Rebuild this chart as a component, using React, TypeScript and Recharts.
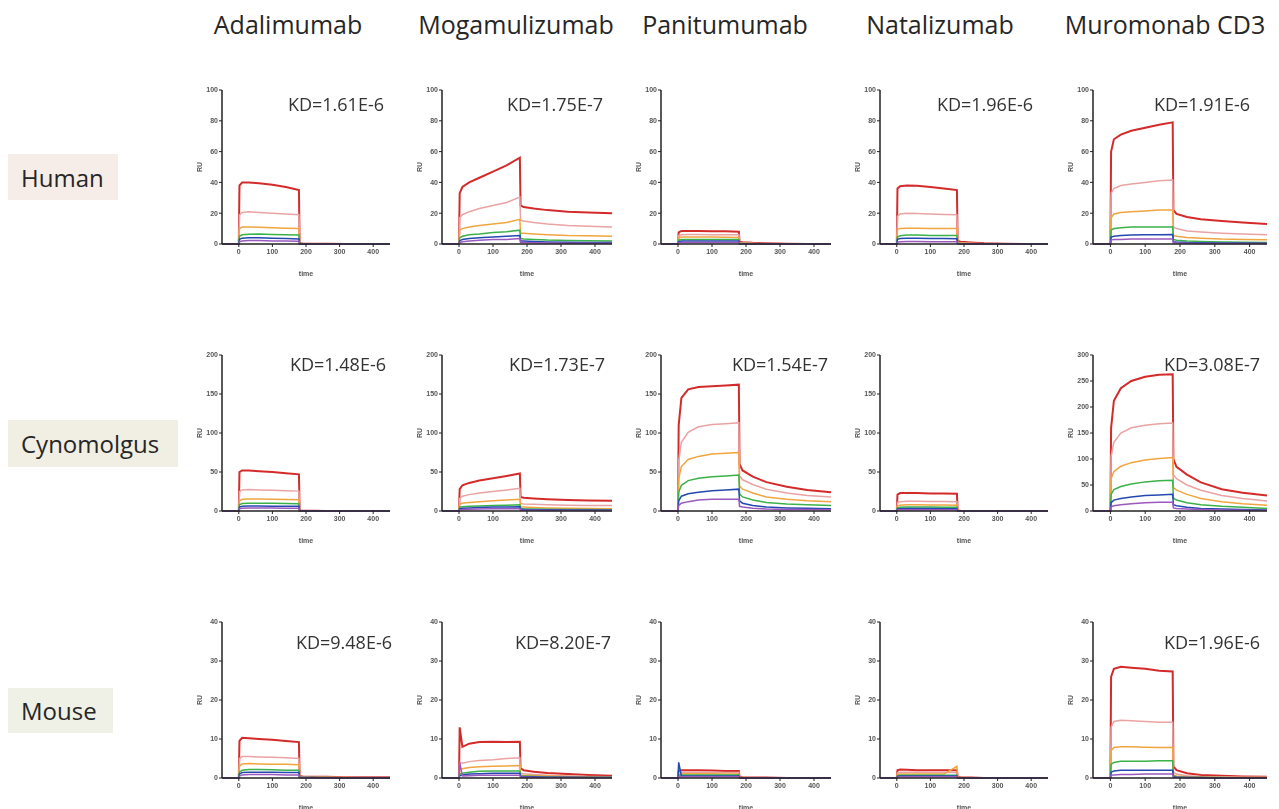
import { LineChart, Line, XAxis, YAxis } from 'recharts';

// sample times (s) shared by every sensorgram
const T = [-50, 0, 2, 10, 30, 60, 100, 140, 179, 181, 190, 220, 260, 320, 380, 450];

const antibodies = ['Adalimumab', 'Mogamulizumab', 'Panitumumab', 'Natalizumab', 'Muromonab CD3'];
const species = ['Human', 'Cynomolgus', 'Mouse'];
const speciesBg = ['#f6ece8', '#f1eee3', '#eff1e6'];

// six analyte concentrations, high -> low
const seriesColors = ['#d42a2a', '#eaa3a3', '#f0a540', '#3bb149', '#2548b0', '#9b59c0'];

const ticks100 = [0, 20, 40, 60, 80, 100];
const ticks200 = [0, 50, 100, 150, 200];
const ticks300 = [0, 50, 100, 150, 200, 250, 300];
const ticks40 = [0, 10, 20, 30, 40];

// ---- Human ----
const humAda = [
  [0, 0, 38, 40, 40, 39.5, 38.5, 37, 35, 0.5, 0.3, 0.2, 0.1, 0, 0, 0],
  [0, 0, 19, 20.5, 21, 20.5, 20, 19.5, 19, 0.3, 0.2, 0.1, 0, 0, 0, 0],
  [0, 0, 10, 11, 11, 10.8, 10.5, 10.3, 10, 0.2, 0.1, 0, 0, 0, 0, 0],
  [0, 0, 5, 6, 6.3, 6.5, 6.2, 6, 5.8, 0.2, 0.1, 0, 0, 0, 0, 0],
  [0, 0, 3, 3.8, 4, 4, 3.8, 3.5, 3.3, 0.1, 0, 0, 0, 0, 0, 0],
  [0, 0, 1.5, 2, 2.2, 2.2, 2, 2, 1.8, 0.1, 0, 0, 0, 0, 0, 0],
];
const humMoga = [
  [0, 0, 33, 37, 40, 43, 47, 51, 56, 25, 24, 23, 22, 21, 20.5, 20],
  [0, 0, 17, 19, 21, 23, 25, 27, 30.5, 15.5, 15, 14, 13, 12, 11.5, 11],
  [0, 0, 9, 10, 11, 12, 13, 14, 16, 7, 7, 6.5, 6, 5.5, 5.3, 5],
  [0, 0, 4, 5, 6, 6.5, 7.5, 8, 9, 3.5, 3.3, 3, 2.6, 2.3, 2.1, 2],
  [0, 0, 2, 3, 3.5, 4, 4.5, 5, 5.5, 2, 1.9, 1.6, 1.3, 1.1, 1, 1],
  [0, 0, 1, 1.5, 2, 2.5, 3, 3, 3.5, 1, 0.9, 0.8, 0.6, 0.5, 0.5, 0.5],
];
const humPani = [
  [0, 0, 7.5, 8.5, 8.5, 8.5, 8.3, 8.2, 8, 1.5, 1.2, 0.8, 0.5, 0.2, 0, 0],
  [0, 0, 5.5, 6, 6.2, 6.2, 6, 6, 6, 1, 0.8, 0.5, 0.3, 0.1, 0, 0],
  [0, 0, 4, 4.5, 4.5, 4.5, 4.5, 4.4, 4.3, 0.7, 0.5, 0.3, 0.2, 0, 0, 0],
  [0, 0, 2.5, 3, 3, 3, 3, 3, 3, 0.5, 0.4, 0.2, 0.1, 0, 0, 0],
  [0, 0, 1.5, 2, 2, 2, 2, 2, 2, 0.3, 0.2, 0.1, 0, 0, 0, 0],
  [0, 0, 0.8, 1, 1, 1, 1, 1, 1, 0.2, 0.1, 0, 0, 0, 0, 0],
];
const humNata = [
  [0, 0, 36, 37.5, 38, 37.8, 37, 36, 35, 2, 1.5, 1, 0.5, 0.2, 0, 0],
  [0, 0, 18, 19.5, 20, 19.8, 19.5, 19.2, 19, 1, 0.8, 0.5, 0.2, 0, 0, 0],
  [0, 0, 9.5, 10, 10.2, 10.2, 10, 10, 10, 0.6, 0.5, 0.3, 0.1, 0, 0, 0],
  [0, 0, 4.5, 5.3, 5.8, 5.8, 5.6, 5.5, 5.5, 0.4, 0.3, 0.2, 0, 0, 0, 0],
  [0, 0, 3, 3.5, 3.8, 3.8, 3.6, 3.5, 3.4, 0.3, 0.2, 0.1, 0, 0, 0, 0],
  [0, 0, 1.2, 1.5, 1.6, 1.6, 1.5, 1.5, 1.4, 0.2, 0.1, 0, 0, 0, 0, 0],
];
const humMuro = [
  [0, 0, 60, 68, 71, 73.5, 75.5, 77.5, 79, 22, 19.5, 17.5, 16, 15, 14, 13],
  [0, 0, 33, 36, 38, 39, 40, 41, 41.5, 11, 10, 8.5, 7.8, 7, 6.5, 6],
  [0, 0, 17, 19.5, 20.5, 21, 21.5, 22, 22, 5.5, 5, 4.2, 3.7, 3.2, 3, 2.8],
  [0, 0, 9, 10, 10.5, 11, 11, 11, 11, 3, 2.5, 2, 1.6, 1.3, 1.1, 1],
  [0, 0, 4.5, 5, 5.5, 5.8, 6, 6, 6.2, 1.5, 1.3, 1, 0.8, 0.7, 0.6, 0.5],
  [0, 0, 2.5, 3, 3, 3.2, 3.2, 3.2, 3.2, 0.8, 0.7, 0.5, 0.4, 0.3, 0.3, 0.3],
];

// ---- Cynomolgus ----
const cynAda = [
  [0, 0, 50, 52, 52, 51, 50, 48.5, 47, 0.5, 0.3, 0.2, 0.1, 0, 0, 0],
  [0, 0, 25, 27, 27.5, 27, 26.5, 26, 25.5, 0.3, 0.2, 0.1, 0, 0, 0, 0],
  [0, 0, 13, 15, 15.5, 15.3, 15, 14.8, 14.5, 0.2, 0.1, 0, 0, 0, 0, 0],
  [0, 0, 8, 9.5, 10, 10, 9.8, 9.5, 9.3, 0.1, 0, 0, 0, 0, 0, 0],
  [0, 0, 5, 6, 6.3, 6.3, 6.2, 6, 6, 0.1, 0, 0, 0, 0, 0, 0],
  [0, 0, 3, 3.5, 3.8, 3.8, 3.7, 3.6, 3.5, 0, 0, 0, 0, 0, 0, 0],
];
const cynMoga = [
  [0, 0, 28, 33, 36, 39, 42, 45, 48, 18, 17, 16, 15, 14, 13.5, 13],
  [0, 0, 16, 19, 21, 23, 25, 27, 29, 9.5, 9, 8.5, 8, 7.5, 7, 7],
  [0, 0, 9, 10, 11, 12, 13, 14, 15, 5, 5, 4.5, 4, 3.6, 3.3, 3],
  [0, 0, 5, 5.5, 6, 6.5, 7, 7.5, 8, 3, 2.8, 2.5, 2.2, 2, 1.8, 1.6],
  [0, 0, 3, 3.5, 4, 4.5, 5, 5, 5.5, 2, 1.9, 1.7, 1.5, 1.3, 1.2, 1],
  [0, 0, 1.5, 2, 2.3, 2.5, 2.8, 3, 3, 1, 1, 0.9, 0.8, 0.7, 0.6, 0.5],
];
const cynPani = [
  [0, 0, 110, 145, 156, 159, 160, 161, 162, 60, 52, 44, 37, 31, 27, 24],
  [0, 0, 65, 88, 101, 108, 111, 112, 113, 45, 40, 34, 28, 23, 20, 18],
  [0, 0, 42, 57, 66, 70, 73, 74, 75, 32, 28, 23, 18, 15, 13, 12],
  [0, 0, 24, 33, 39, 42, 44, 45, 46, 22, 18, 14, 11, 9, 8, 7],
  [0, 0, 13, 19, 22, 24, 26, 27, 28, 13, 10, 7, 5, 4, 3.5, 3],
  [0, 0, 7, 10, 12, 14, 15, 15, 15, 6, 5, 3.5, 2.5, 2, 2, 1.5],
];
const cynNata = [
  [0, 0, 21, 23, 23, 23, 22.5, 22.3, 22, 0.5, 0.3, 0.1, 0, 0, 0, 0],
  [0, 0, 11, 12, 12.5, 12.5, 12.3, 12.2, 12, 0.3, 0.2, 0, 0, 0, 0, 0],
  [0, 0, 6.5, 7.5, 8, 8, 7.8, 7.7, 7.5, 0.2, 0.1, 0, 0, 0, 0, 0],
  [0, 0, 4, 4.8, 5, 5, 5, 4.9, 4.8, 0.1, 0, 0, 0, 0, 0, 0],
  [0, 0, 2.5, 3, 3.2, 3.2, 3.1, 3, 3, 0.1, 0, 0, 0, 0, 0, 0],
  [0, 0, 1.2, 1.5, 1.7, 1.7, 1.7, 1.6, 1.6, 0, 0, 0, 0, 0, 0, 0],
];
const cynMuro = [
  [0, 0, 160, 212, 236, 250, 258, 262, 263, 100, 85, 70, 55, 42, 35, 30],
  [0, 0, 105, 132, 150, 160, 165, 168, 169, 70, 62, 50, 40, 30, 24, 19],
  [0, 0, 62, 76, 86, 93, 98, 101, 103, 45, 40, 32, 24, 18, 14, 11],
  [0, 0, 32, 41, 47, 52, 56, 58, 59, 25, 21, 16, 12, 9, 7, 5],
  [0, 0, 16, 21, 24, 27, 30, 31, 32, 12, 10, 7, 5, 4, 3, 2],
  [0, 0, 8, 10, 12, 14, 16, 17, 17, 6, 5, 4, 3, 2, 1.5, 1],
];

// ---- Mouse ----
const mouAda = [
  [0, 0, 9.5, 10.3, 10.2, 10, 9.8, 9.5, 9.2, 0.5, 0.4, 0.3, 0.3, 0.2, 0.2, 0.2],
  [0, 0, 5, 5.5, 5.5, 5.4, 5.3, 5.2, 5, 0.3, 0.3, 0.2, 0.2, 0.1, 0.1, 0.1],
  [0, 0, 3, 3.6, 3.7, 3.6, 3.5, 3.5, 3.4, 0.2, 0.2, 0.1, 0.1, 0.1, 0, 0],
  [0, 0, 1.5, 2, 2.2, 2.2, 2.1, 2, 2, 0.2, 0.1, 0.1, 0.1, 0, 0, 0],
  [0, 0, 1, 1.4, 1.5, 1.5, 1.5, 1.4, 1.4, 0.1, 0.1, 0.1, 0, 0, 0, 0],
  [0, 0, 0.5, 0.8, 0.9, 0.9, 0.9, 0.8, 0.8, 0.1, 0.1, 0, 0, 0, 0, 0],
];
const mouMoga = [
  [0, 0, 13, 8, 8.8, 9.2, 9.3, 9.2, 9.3, 2.5, 2, 1.6, 1.3, 1, 0.8, 0.6],
  [0, 0, 4, 3.8, 4.2, 4.5, 4.7, 5, 5.2, 1.2, 1.1, 0.9, 0.7, 0.5, 0.4, 0.3],
  [0, 0, 2, 2.4, 2.7, 2.9, 3, 3.1, 3.2, 0.8, 0.7, 0.6, 0.5, 0.4, 0.3, 0.3],
  [0, 0, 1, 1.2, 1.5, 1.7, 1.8, 1.8, 1.8, 0.5, 0.5, 0.4, 0.3, 0.2, 0.2, 0.2],
  [0, 0, 0.6, 0.8, 1, 1.1, 1.2, 1.2, 1.2, 0.4, 0.3, 0.3, 0.2, 0.2, 0.1, 0.1],
  [0, 0, 4, 0.5, 0.6, 0.7, 0.7, 0.7, 0.7, 0.2, 0.2, 0.1, 0.1, 0.1, 0.1, 0.1],
];
const mouPani = [
  [0, 0, 1.8, 2, 2, 2, 1.9, 1.8, 1.8, 0.3, 0.2, 0.1, 0.1, 0, 0, 0],
  [0, 0, 1.3, 1.5, 1.5, 1.5, 1.5, 1.4, 1.4, 0.2, 0.1, 0.1, 0, 0, 0, 0],
  [0, 0, 1, 1.1, 1.1, 1.1, 1.1, 1, 1, 0.1, 0.1, 0, 0, 0, 0, 0],
  [0, 0, 0.7, 0.8, 0.8, 0.8, 0.8, 0.8, 0.8, 0.1, 0, 0, 0, 0, 0, 0],
  [0, 0, 4, 0.5, 0.5, 0.5, 0.5, 0.5, 0.5, 0.1, 0, 0, 0, 0, 0, 0],
  [0, 0, 0.3, 0.3, 0.3, 0.3, 0.3, 0.3, 0.3, 0, 0, 0, 0, 0, 0, 0],
];
const mouNata = [
  [0, 0, 2, 2.2, 2.1, 2, 2, 2, 2, 0.3, 0.2, 0.1, 0, 0, 0, 0],
  [0, 0, 1.3, 1.5, 1.5, 1.5, 1.4, 1.4, 1.4, 0.2, 0.1, 0, 0, 0, 0, 0],
  [0, 0, 0.9, 1, 1, 1, 1, 1, 3, 0.1, 0.1, 0, 0, 0, 0, 0],
  [0, 0, 0.6, 0.7, 0.7, 0.7, 0.7, 0.7, 0.7, 0.1, 0, 0, 0, 0, 0, 0],
  [0, 0, 0.4, 0.5, 0.5, 0.5, 0.5, 0.5, 0.5, 0, 0, 0, 0, 0, 0, 0],
  [0, 0, 0.2, 0.3, 0.3, 0.3, 0.3, 0.3, 0.3, 0, 0, 0, 0, 0, 0, 0],
];
const mouMuro = [
  [0, 0, 26, 28, 28.5, 28.3, 28, 27.5, 27.3, 3, 2, 1.2, 0.8, 0.6, 0.4, 0.3],
  [0, 0, 13, 14.5, 14.8, 14.7, 14.5, 14.3, 14.3, 1.5, 1, 0.6, 0.4, 0.3, 0.2, 0.2],
  [0, 0, 7, 7.8, 8, 8, 7.9, 7.8, 7.8, 0.8, 0.5, 0.3, 0.2, 0.1, 0.1, 0.1],
  [0, 0, 3.5, 4, 4.3, 4.3, 4.3, 4.4, 4.4, 0.5, 0.3, 0.2, 0.1, 0.1, 0, 0],
  [0, 0, 1.5, 1.8, 2, 2, 2, 2, 2, 0.3, 0.2, 0.1, 0.1, 0, 0, 0],
  [0, 0, 0.7, 0.8, 0.9, 0.9, 1, 1, 1, 0.2, 0.1, 0.1, 0, 0, 0, 0],
];

const kdHuman = ['KD=1.61E-6', 'KD=1.75E-7', '', 'KD=1.96E-6', 'KD=1.91E-6'];
const kdCyno = ['KD=1.48E-6', 'KD=1.73E-7', 'KD=1.54E-7', '', 'KD=3.08E-7'];
const kdMouse = ['KD=9.48E-6', 'KD=8.20E-7', '', '', 'KD=1.96E-6'];

const grid = [
  [humAda, humMoga, humPani, humNata, humMuro],
  [cynAda, cynMoga, cynPani, cynNata, cynMuro],
  [mouAda, mouMoga, mouPani, mouNata, mouMuro],
];
const kdGrid = [kdHuman, kdCyno, kdMouse];

// layout (px)
const colX = [222, 442, 661, 880, 1093];
const colW = [168, 170, 170, 168, 174];
const colHead = [288, 516, 725, 940, 1165];
const rowY = [90, 355, 622];
const rowH = [154, 156, 156];
const labelBox = [
  { left: 8, top: 154, width: 110, height: 46 },
  { left: 8, top: 420, width: 170, height: 47 },
  { left: 8, top: 688, width: 105, height: 45 },
];
const kdRight = [
  [384, 603, 0, 1033, 1250],
  [386, 605, 828, 0, 1260],
  [392, 611, 0, 0, 1260],
];
const kdY = [104, 364, 642];

const FONT = '"Open Sans", "Noto Sans", sans-serif';
const AX = '#222';
const tickStyle = { fontSize: 7, fill: '#555', fontFamily: 'Liberation Sans, Arial', fontWeight: 700 };

function Panel({ x, y, w, h, yMax, yTicks, rows }: any) {
  const series = rows.map((r: number[]) => T.map((t, i) => ({ t, v: r[i] })));
  return (
    <div style={{ position: 'absolute', left: x - 45, top: y - 6, willChange: 'transform' }}>
      <LineChart width={45 + w + 6} height={6 + h + 36} margin={{ top: 6, right: 6, bottom: 0, left: 0 }}>
        <XAxis
          type="number"
          dataKey="t"
          domain={[-50, 450]}
          ticks={[0, 100, 200, 300, 400]}
          height={36}
          tick={tickStyle}
          tickSize={3}
          tickMargin={2}
          axisLine={{ stroke: AX, strokeWidth: 1.5 }}
          tickLine={{ stroke: AX }}
          label={{ value: 'time', position: 'insideBottom', offset: 4, style: tickStyle }}
        />
        <YAxis
          type="number"
          domain={[0, yMax]}
          ticks={yTicks}
          width={45}
          tick={tickStyle}
          tickSize={3}
          tickMargin={1}
          axisLine={{ stroke: AX, strokeWidth: 1.5 }}
          tickLine={{ stroke: AX }}
          label={{ value: 'RU', angle: -90, position: 'center', style: tickStyle }}
        />
        {series.map((d: any, i: number) => (
          <Line
            key={i}
            data={d}
            dataKey="v"
            type="linear"
            stroke={seriesColors[i]}
            strokeWidth={i === 0 ? 2 : 1.5}
            dot={false}
            isAnimationActive={false}
          />
        ))}
      </LineChart>
    </div>
  );
}

export default function App() {
  return (
    <div style={{ position: 'absolute', left: 0, top: 0, width: 1279, height: 809, background: '#fff', fontFamily: FONT }}>
      {antibodies.map((name, c) => (
        <div
          key={name}
          style={{ position: 'absolute', left: colHead[c] - 120, width: 240, top: 24, transform: 'translateY(-50%)', textAlign: 'center', fontSize: 25, lineHeight: 1, color: '#262626' }}
        >
          {name}
        </div>
      ))}
      {species.map((s, r) => (
        <div
          key={s}
          style={{ position: 'absolute', ...labelBox[r], background: speciesBg[r], display: 'flex', alignItems: 'center', paddingLeft: 13, boxSizing: 'border-box', fontSize: 24, color: '#262626' }}
        >
          {s}
        </div>
      ))}
      {grid.map((row, r) =>
        row.map((rows, c) => {
          const yMax = r === 0 ? 100 : r === 2 ? 40 : c === 4 ? 300 : 200;
          const yTicks = r === 0 ? ticks100 : r === 2 ? ticks40 : c === 4 ? ticks300 : ticks200;
          return (
            <Panel key={`${r}-${c}`} x={colX[c]} y={rowY[r]} w={colW[c]} h={rowH[r]} yMax={yMax} yTicks={yTicks} rows={rows} />
          );
        })
      )}
      {kdGrid.map((row, r) =>
        row.map((kd, c) =>
          kd ? (
            <div
              key={`kd-${r}-${c}`}
              style={{ position: 'absolute', left: kdRight[r][c] - 160, width: 160, top: kdY[r], transform: 'translateY(-50%)', textAlign: 'right', fontSize: 18, lineHeight: 1, color: '#333' }}
            >
              {kd}
            </div>
          ) : null
        )
      )}
    </div>
  );
}
